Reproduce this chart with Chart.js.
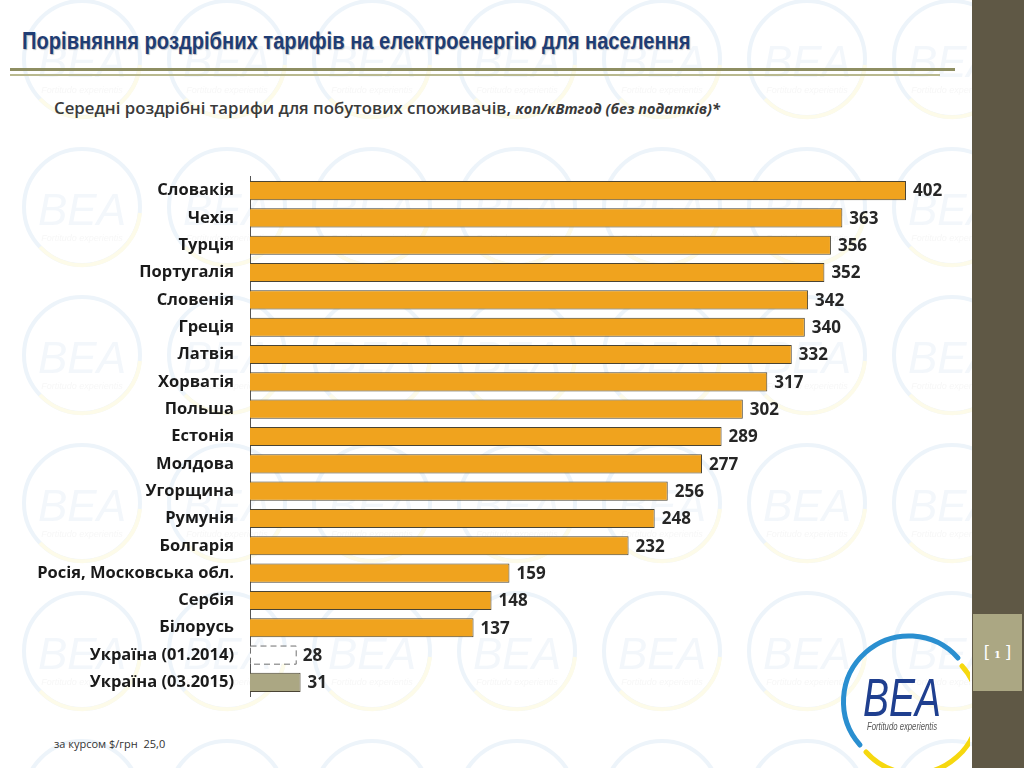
<!DOCTYPE html>
<html lang="uk">
<head>
<meta charset="UTF-8">
<title>Порівняння роздрібних тарифів</title>
<script src="https://cdn.jsdelivr.net/npm/chart.js@4.4.1/dist/chart.umd.min.js"></script>
<style>
  body { margin: 0; width: 1024px; height: 768px; position: relative; background: #fff; overflow: hidden; font-family: "Open Sans", "Noto Sans", sans-serif; }
  #wm { position: absolute; left: 0; top: 0; }
  #title { position: absolute; left: 22px; top: 28px; font-family: "Liberation Sans", sans-serif; font-weight: bold; font-size: 23px; color: #1f3d74; text-shadow: 1px 1px 1px rgba(0,0,0,0.25); transform: scaleX(0.875); transform-origin: left top; white-space: nowrap; }
  .rule1 { position: absolute; left: 10px; top: 68px; width: 945px; height: 3px; background: #8e8e62; }
  .rule2 { position: absolute; left: 10px; top: 74px; width: 930px; height: 2px; background: #b9b98f; }
  #sub { position: absolute; left: 54px; top: 96px; font-size: 16.8px; font-weight: 600; color: #3a3a3a; white-space: nowrap; }
  #sub i { font-size: 14.5px; font-weight: bold; }
  #note { position: absolute; left: 54px; top: 736px; font-size: 11px; color: #333; }
  #side { position: absolute; left: 972px; top: 0; width: 52px; height: 768px; background: #5f5845; }
  #page { position: absolute; left: 973px; top: 614px; width: 49px; height: 77px; background: #aba783; color: #fff; font-size: 16px; text-align: center; line-height: 77px; font-family: "DejaVu Serif", serif; }
  #page b { font-size: 10px; font-weight: bold; margin: 0 4px; }
  #box { position: absolute; left: 0; top: 159px; width: 972px; height: 555px; }
  #logo { position: absolute; left: 830px; top: 620px; }
</style>
</head>
<body>
<svg id="wm" width="972" height="768">
  <defs>
    <pattern id="tile" x="10" y="-15" width="145" height="148" patternUnits="userSpaceOnUse">
      <circle cx="72" cy="74" r="58" fill="none" stroke="#dbe8f4" stroke-width="4"/>
      <path d="M 30 114 A 58 58 0 0 0 130 80" fill="none" stroke="#fbf6d2" stroke-width="4"/>
      <text x="72" y="92" text-anchor="middle" font-family="Liberation Sans" font-style="italic" font-size="44" fill="#e6eef7">BEA</text>
      <text x="72" y="108" text-anchor="middle" font-family="Liberation Sans" font-style="italic" font-size="9" fill="#eeeeee">Fortitudo experientis</text>
    </pattern>
  </defs>
  <rect width="972" height="768" fill="url(#tile)" opacity="0.5"/>
</svg>

<div id="title">Порівняння роздрібних тарифів на електроенергію для населення</div>
<div class="rule1"></div>
<div class="rule2"></div>
<div id="sub">Середні роздрібні тарифи для побутових споживачів, <i>коп/кВтгод (без податків)*</i></div>

<div id="box"><canvas id="chart"></canvas></div>

<div id="note">за курсом $/грн&nbsp; 25,0</div>
<div id="side"></div>
<div id="page">[<b>1</b>]</div>

<svg id="logo" width="140" height="148">
  <path d="M 30 125 A 62 62 0 1 1 128 38" fill="none" stroke="#2a8fd0" stroke-width="5" stroke-linecap="round"/>
  <path d="M 132 46 A 62 62 0 0 1 36 132" fill="none" stroke="#f6d80f" stroke-width="5" stroke-linecap="round"/>
  <text x="72" y="96" text-anchor="middle" font-family="Liberation Sans" font-style="italic" font-size="54" fill="#1f3f8f" textLength="78" lengthAdjust="spacingAndGlyphs">BEA</text>
  <text x="72" y="110" text-anchor="middle" font-family="Liberation Sans" font-style="italic" font-size="10" fill="#555" textLength="70" lengthAdjust="spacingAndGlyphs">Fortitudo experientis</text>
</svg>

<script>
// дані
const countries = ['Словакія', 'Чехія', 'Турція', 'Португалія', 'Словенія', 'Греція', 'Латвія', 'Хорватія',
  'Польша', 'Естонія', 'Молдова', 'Угорщина', 'Румунія', 'Болгарія', 'Росія, Московська обл.',
  'Сербія', 'Білорусь', 'Україна (01.2014)', 'Україна (03.2015)'];
const tariffs = [402, 363, 356, 352, 342, 340, 332, 317, 302, 289, 277, 256, 248, 232, 159, 148, 137, 28, 31];

const dashedIdx = 17;
const greyIdx = 18;

const fills = tariffs.map((v, i) => i === dashedIdx ? '#ffffff' : (i === greyIdx ? '#aba783' : '#f0a31e'));
const borders = tariffs.map((v, i) => i === dashedIdx ? 'rgba(0,0,0,0)' : '#4a4434');

// підписи значень + пунктирна рамка
const valueLabels = {
  id: 'valueLabels',
  afterDatasetsDraw(chart) {
    const ctx = chart.ctx;
    const meta = chart.getDatasetMeta(0);
    ctx.save();
    meta.data.forEach((bar, i) => {
      const p = bar.getProps(['x', 'y', 'base', 'height'], true);
      if (i === dashedIdx) {
        ctx.setLineDash([6, 4]);
        ctx.strokeStyle = '#707070';
        ctx.lineWidth = 1;
        ctx.strokeRect(p.base + 0.5, p.y - p.height / 2 + 0.5, p.x - p.base, p.height - 1);
        ctx.setLineDash([]);
      }
      ctx.fillStyle = '#262626';
      ctx.font = 'bold 17px "Open Sans", sans-serif';
      ctx.textBaseline = 'middle';
      ctx.fillText(tariffs[i], p.x + 7, p.y + 1);
    });
    ctx.restore();
  }
};

new Chart(document.getElementById('chart'), {
  type: 'bar',
  data: {
    labels: countries,
    datasets: [{
      data: tariffs,
      backgroundColor: fills,
      borderColor: borders,
      borderWidth: 1,
      barPercentage: 0.7,
      categoryPercentage: 1
    }]
  },
  options: {
    indexAxis: 'y',
    responsive: true,
    maintainAspectRatio: false,
    animation: false,
    layout: { padding: { top: 6, bottom: 5, left: 0, right: 4 } },
    plugins: { legend: { display: false }, tooltip: { enabled: false } },
    scales: {
      x: { display: false, min: 0, max: 440 },
      y: {
        grid: { display: false },
        border: { display: true, color: '#555', width: 1 },
        ticks: {
          color: '#1a1a1a',
          padding: 8,
          font: { family: '"Open Sans", sans-serif', size: 16.5, weight: 'bold' }
        },
        afterFit(scale) { scale.width = 250; }
      }
    }
  },
  plugins: [valueLabels]
});
</script>
</body>
</html>
